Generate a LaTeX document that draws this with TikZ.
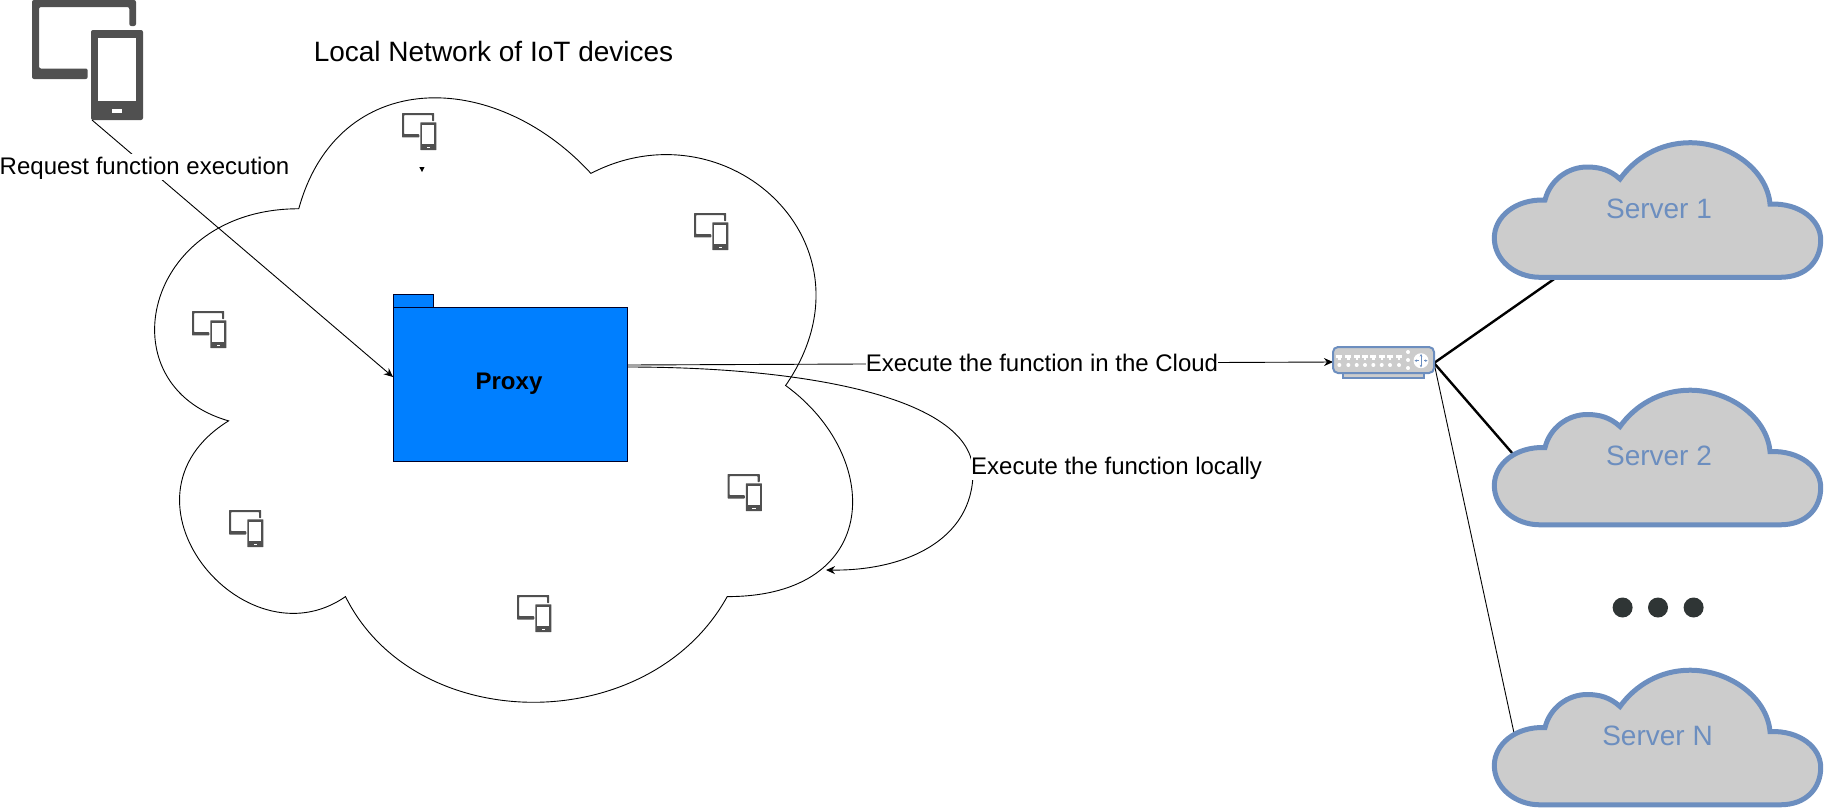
\documentclass[tikz,border=0pt]{standalone}
\usepackage{fontspec}
\setmainfont{Liberation Sans}
\usetikzlibrary{arrows.meta}
\definecolor{iconc}{HTML}{505050}
\definecolor{srvb}{HTML}{6C8EBF}
\definecolor{srvf}{HTML}{CCCCCC}
\definecolor{proxyf}{HTML}{007FFF}
\definecolor{dotc}{HTML}{2F3535}
\newcommand{\fs}[1]{\fontsize{#1}{#1}\selectfont}
\tikzset{
  x=1pt,y=-1pt,
  conn/.style={draw=black,line width=.9pt},
  arr/.style={conn,-{Stealth[length=9pt,width=8pt]}},
  lab/.style={font=\fs{24},fill=white,inner sep=0pt,text height=20pt,text depth=6pt},
  plainlab/.style={font=\fs{28},inner sep=0pt},
  srvlab/.style={font=\fs{28},text=srvb,inner sep=0pt},
  netcloud/.style={draw=black,line width=.9pt},
  srvline/.style={draw=srvb,line width=5pt,fill=srvf,miter limit=10},
  thick conn/.style={draw=black,line width=2.4pt},
  device/.pic={
    \fill[iconc,rounded corners=\iconr] (87.7,79)--(32,79)--(32,0)--(136,0)--(136,26)--(129.3,26)--(129.3,7)--(39,7)--(39,68.5)--(87.7,68.5)--cycle;
    \fill[iconc,rounded corners=\iconr] (91,30) rectangle (143,120);
    \fill[white] (98,37.7) rectangle (136,101);
    \fill[white] (111.7,109) rectangle (122.3,113);
  },
  srvcloud/.pic={
    \path[srvline] (80,157.3) -- (320,157.3)
      .. controls (347,157.3) and (360.7,140) .. (360.7,120)
      .. controls (360.7,100) and (340,83) .. (310,84)
      .. controls (307,50) and (270,22.7) .. (230,22.7)
      .. controls (200,22.7) and (175,38) .. (160,59)
      .. controls (150,50) and (140,47) .. (127,47)
      .. controls (108,47) and (90,60) .. (85,80)
      .. controls (55,79) and (34.3,97) .. (34.3,118)
      .. controls (34.3,140) and (55,157.3) .. (80,157.3) -- cycle;
  },
}
\newcommand{\iconr}{2pt}
\begin{document}
\begin{tikzpicture}
\useasboundingbox (0,0) rectangle (1825,807);
% large cloud
\draw[netcloud] (298.75,208.75)
  .. controls (143,208.75) and (104,385.5) .. (228.6,420.85)
  .. controls (104,498) and (244.2,667) .. (345.5,596.6)
  .. controls (415.6,737.5) and (649.3,737.5) .. (727.2,596.6)
  .. controls (883,596.6) and (883,456.2) .. (785.6,385.5)
  .. controls (883,244.1) and (727.2,102.7) .. (590.9,173.4)
  .. controls (493.5,67.35) and (337.7,67.35) .. (298.75,208.75) -- cycle;
% coordinates for connector ends
\coordinate (phoneend) at (92,120);
\coordinate (proxyin) at (393,377);
\coordinate (proxyoutA) at (627,365);
\coordinate (proxyoutB) at (627,367);
\coordinate (swin) at (1333,362);
\coordinate (swout) at (1434,363);
\coordinate (back) at (826,570);
\coordinate (s1in) at (1557,277);
\coordinate (s2in) at (1513,454);
\coordinate (sNin) at (1514,733);
\coordinate (via) at (973,472);
% small devices
\renewcommand{\iconr}{.6pt}
\foreach \n/\px/\py in {a/392/113,b/684/213,c/182/311,d/717.5/474,e/219/510,f/507/595}
  \pic[scale=.31,transform shape] at (\px-.31*32+10,\py) {device};
\renewcommand{\iconr}{2pt}
\pic at (0,0) {device};
% little stray arrowhead
\coordinate (stray) at (422,172);
\fill[black] (419.3,167) -- (424.5,167) -- (stray) -- cycle;
% connectors
\draw[arr] (phoneend) -- (proxyin);
\draw[arr] (proxyoutA) -- (swin);
\draw[arr] (proxyoutB) .. controls (815,367) and (973,400) .. (via)
  .. controls (973,540) and (905,571) .. (back);
\draw[thick conn] (swout) -- (s1in);
\draw[thick conn] (swout) -- (s2in);
\draw[conn] (swout) -- (sNin);
% Proxy
\draw[draw=black!85!blue,fill=proxyf,line width=.9pt] (393.3,294) rectangle (433,308);
\node[draw=black!85!blue,fill=proxyf,line width=.9pt,minimum width=233.7pt,minimum height=153.4pt,inner sep=0pt] (proxy) at (510.15,384.5) {};
\node[font=\fs{24}\bfseries,inner sep=0pt] (proxylab) at (509,384) {Proxy};
% labels
\node[plainlab] (title) at (493.5,51.5) {Local Network of IoT devices};
\node[lab] (req) at (144.5,167) {Request function execution};
\node[lab] (cloudlab) at (1042,364) {Execute the function in the Cloud};
\node[lab,anchor=west] (locallab) at (971,467) {Execute the function locally};
% server clouds
\pic at (1460,120) {srvcloud};
\pic at (1460,367.5) {srvcloud};
\pic at (1460,647.5) {srvcloud};
\node[srvlab] (s1) at (1659,209) {Server 1};
\node[srvlab] (s2) at (1659,456) {Server 2};
\node[srvlab] (sN) at (1657.5,736) {Server N};
% dots
\foreach \dx in {1622.6,1658,1693.6}
  \fill[dotc] (\dx,607.5) circle (10);
% switch
\draw[srvb,fill=srvf,line width=1.6pt] (1342.7,373) rectangle (1424,378);
\draw[srvb,fill=srvf,line width=2pt,rounded corners=5pt] (1333,347) rectangle (1434,373);
\foreach \dx in {39.3,48.3,56.7,65,73.3,81.7,90,99}{
  \fill[white] (1300+\dx-3,354.5) rectangle (1300+\dx+3,358);
  \fill[white] (1300+\dx-1.2,358) rectangle (1300+\dx+1.2,359.5);
  \fill[white] (1300+\dx,365) circle (2);
}
\foreach \dy in {352,360,368} \fill[white] (1408,\dy) circle (2);
\fill[white] (1421,360.7) circle (7.5);
\draw[srvb,line width=.7pt,-{Stealth[length=2.5pt,width=2.5pt]}] (1421,360.7) -- (1421,354);
\draw[srvb,line width=.7pt,-{Stealth[length=2.5pt,width=2.5pt]}] (1421,360.7) -- (1421,367.4);
\draw[srvb,line width=.7pt,{Stealth[length=2.5pt,width=2.5pt]}-] (1414.5,360.7) -- (1418.5,360.7);
\draw[srvb,line width=.7pt,{Stealth[length=2.5pt,width=2.5pt]}-] (1427.5,360.7) -- (1423.5,360.7);
\end{tikzpicture}
\end{document}
